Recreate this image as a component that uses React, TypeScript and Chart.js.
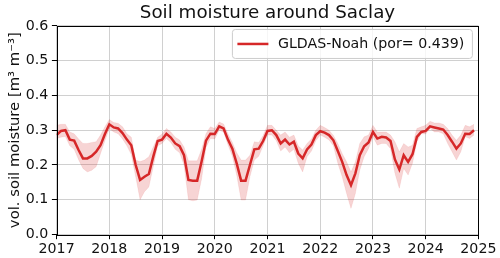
import React, { useEffect, useRef } from "react";
import { Chart, registerables } from "chart.js";

Chart.register(...registerables);

// ---- data (monthly, Jan 2017 .. Dec 2024) ----
const startYear = 2017;
const soilMoisture = [
  0.286, 0.298, 0.300, 0.273, 0.270, 0.243, 0.219, 0.219, 0.226, 0.238, 0.257, 0.289, // 2017
  0.317, 0.308, 0.305, 0.292, 0.273, 0.257, 0.200, 0.157, 0.166, 0.174, 0.224, 0.269, // 2018
  0.273, 0.290, 0.279, 0.262, 0.254, 0.228, 0.157, 0.155, 0.155, 0.210, 0.270, 0.290, // 2019
  0.289, 0.311, 0.305, 0.273, 0.247, 0.204, 0.155, 0.155, 0.200, 0.245, 0.247, 0.269, // 2020
  0.298, 0.300, 0.286, 0.262, 0.273, 0.259, 0.267, 0.233, 0.219, 0.245, 0.259, 0.286, // 2021
  0.297, 0.293, 0.286, 0.271, 0.240, 0.209, 0.171, 0.142, 0.176, 0.228, 0.254, 0.265, // 2022
  0.295, 0.276, 0.281, 0.279, 0.269, 0.216, 0.187, 0.228, 0.209, 0.231, 0.281, 0.295, // 2023
  0.298, 0.311, 0.308, 0.305, 0.302, 0.286, 0.267, 0.247, 0.262, 0.290, 0.289, 0.300, // 2024
];
const upperBound = [
  0.314, 0.317, 0.317, 0.295, 0.290, 0.275, 0.262, 0.262, 0.265, 0.267, 0.286, 0.310,
  0.331, 0.322, 0.320, 0.310, 0.290, 0.280, 0.214, 0.210, 0.214, 0.224, 0.252, 0.280,
  0.289, 0.305, 0.295, 0.280, 0.272, 0.252, 0.212, 0.212, 0.212, 0.245, 0.290, 0.310,
  0.305, 0.324, 0.318, 0.290, 0.265, 0.235, 0.214, 0.214, 0.228, 0.267, 0.265, 0.285,
  0.314, 0.314, 0.300, 0.286, 0.295, 0.280, 0.286, 0.255, 0.243, 0.262, 0.275, 0.300,
  0.314, 0.308, 0.300, 0.285, 0.262, 0.233, 0.209, 0.180, 0.209, 0.262, 0.281, 0.286,
  0.314, 0.295, 0.295, 0.295, 0.286, 0.267, 0.238, 0.262, 0.252, 0.257, 0.305, 0.310,
  0.314, 0.326, 0.321, 0.321, 0.317, 0.305, 0.286, 0.271, 0.286, 0.314, 0.310, 0.317,
];
const lowerBound = [
  0.276, 0.280, 0.282, 0.255, 0.245, 0.215, 0.190, 0.180, 0.185, 0.195, 0.233, 0.270,
  0.305, 0.295, 0.290, 0.275, 0.255, 0.230, 0.166, 0.100, 0.123, 0.137, 0.195, 0.255,
  0.262, 0.276, 0.265, 0.245, 0.235, 0.200, 0.100, 0.097, 0.099, 0.160, 0.250, 0.276,
  0.275, 0.300, 0.295, 0.258, 0.225, 0.170, 0.099, 0.099, 0.166, 0.214, 0.225, 0.255,
  0.286, 0.286, 0.270, 0.240, 0.252, 0.235, 0.245, 0.205, 0.180, 0.224, 0.240, 0.270,
  0.286, 0.280, 0.272, 0.255, 0.205, 0.166, 0.118, 0.075, 0.118, 0.185, 0.224, 0.247,
  0.281, 0.257, 0.262, 0.262, 0.247, 0.176, 0.133, 0.190, 0.171, 0.205, 0.267, 0.290,
  0.289, 0.305, 0.295, 0.295, 0.290, 0.262, 0.238, 0.214, 0.238, 0.281, 0.276, 0.286,
];
const xTickYears = [2017, 2018, 2019, 2020, 2021, 2022, 2023, 2024, 2025];
const yTickValues = [0, 0.1, 0.2, 0.3, 0.4, 0.5, 0.6];
const chartTitle = "Soil moisture around Saclay";
const yAxisLabel = "vol. soil moisture [m³ m⁻³]";
const legendLabel = "GLDAS-Noah (por= 0.439)";

const LINE_COLOR = "#d62728";
const BAND_COLOR = "rgba(214, 39, 40, 0.2)";
const FONT = "DejaVu Sans";
const TEXT_COLOR = "#111";
const FS = 14.2;

const toPoints = (vals: number[]) =>
  vals.map((v, i) => ({ x: startYear + i / 12, y: v }));

const framePlugin = {
  id: "frameAndLegend",
  afterDraw(chart: any) {
    const { ctx, chartArea } = chart;
    const { left, right, top, bottom } = chartArea;
    ctx.save();
    // spines
    ctx.strokeStyle = "#000";
    ctx.lineWidth = 1;
    ctx.strokeRect(Math.round(left) + 0.5, Math.round(top) + 0.5,
      Math.round(right) - Math.round(left), Math.round(bottom) - Math.round(top));
    // legend box
    const bw = 240;
    const bh = 29;
    const bx = right - 6 - bw;
    const by = top + 3.5;
    const r = 3;
    ctx.beginPath();
    ctx.moveTo(bx + r, by);
    ctx.lineTo(bx + bw - r, by);
    ctx.arcTo(bx + bw, by, bx + bw, by + r, r);
    ctx.lineTo(bx + bw, by + bh - r);
    ctx.arcTo(bx + bw, by + bh, bx + bw - r, by + bh, r);
    ctx.lineTo(bx + r, by + bh);
    ctx.arcTo(bx, by + bh, bx, by + bh - r, r);
    ctx.lineTo(bx, by + r);
    ctx.arcTo(bx, by, bx + r, by, r);
    ctx.closePath();
    ctx.fillStyle = "rgba(255,255,255,0.8)";
    ctx.fill();
    ctx.strokeStyle = "#cccccc";
    ctx.lineWidth = 1;
    ctx.stroke();
    const cy = by + bh / 2;
    ctx.beginPath();
    ctx.moveTo(bx + 5, cy);
    ctx.lineTo(bx + 36, cy);
    ctx.strokeStyle = LINE_COLOR;
    ctx.lineWidth = 2.5;
    ctx.stroke();
    ctx.fillStyle = TEXT_COLOR;
    ctx.font = `${FS}px "${FONT}"`;
    ctx.textBaseline = "middle";
    ctx.textAlign = "left";
    ctx.fillText(legendLabel, bx + 45.5, cy);
    ctx.restore();
  },
};

export default function App() {
  const canvasRef = useRef<HTMLCanvasElement | null>(null);

  useEffect(() => {
    if (!canvasRef.current) return;
    const chart = new Chart(canvasRef.current, {
      type: "line",
      data: {
        datasets: [
          {
            label: legendLabel,
            data: toPoints(soilMoisture),
            borderColor: LINE_COLOR,
            borderWidth: 2.5,
            pointRadius: 0,
            fill: false,
            tension: 0,
          },
          {
            label: "upper",
            data: toPoints(upperBound),
            borderColor: "rgba(214, 39, 40, 0.15)",
            borderWidth: 0.5,
            pointRadius: 0,
            fill: false,
          },
          {
            label: "lower",
            data: toPoints(lowerBound),
            borderColor: "rgba(214, 39, 40, 0.15)",
            borderWidth: 0.5,
            pointRadius: 0,
            backgroundColor: BAND_COLOR,
            fill: "-1",
          },
        ],
      },
      options: {
        animation: false,
        responsive: false,
        maintainAspectRatio: false,
        layout: { padding: { left: 0, right: 21.6, top: 0, bottom: 0 } },
        plugins: {
          legend: { display: false },
          tooltip: { enabled: false },
          title: {
            display: true,
            text: chartTitle,
            fullSize: false,
            color: TEXT_COLOR,
            font: { family: FONT, size: 18.3, weight: "normal", lineHeight: 1.2 },
            padding: { top: 2.7, bottom: 1.3 },
          },
        },
        scales: {
          x: {
            type: "linear",
            min: xTickYears[0],
            max: xTickYears[xTickYears.length - 1],
            afterBuildTicks: (s: any) => {
              s.ticks = xTickYears.map((v) => ({ value: v }));
            },
            afterFit: (s: any) => {
              s.height = 23.5;
            },
            ticks: {
              color: TEXT_COLOR,
              font: { family: FONT, size: FS },
              padding: 1.5,
              maxRotation: 0,
              callback: (v: any) => String(v),
            },
            grid: {
              color: "#d0d0d0",
              lineWidth: 1,
              tickColor: "#000",
              tickLength: 4.7,
            },
            border: { display: false },
          },
          y: {
            min: yTickValues[0],
            max: yTickValues[yTickValues.length - 1],
            afterBuildTicks: (s: any) => {
              s.ticks = yTickValues.map((v) => ({ value: v }));
            },
            afterFit: (s: any) => {
              s.width = 56.6;
            },
            ticks: {
              color: TEXT_COLOR,
              font: { family: FONT, size: FS },
              padding: 3.5,
              callback: (v: any) => Number(v).toFixed(1),
            },
            grid: {
              color: "#d0d0d0",
              lineWidth: 1,
              tickColor: "#000",
              tickLength: 4.7,
            },
            border: { display: false },
            title: {
              display: true,
              text: yAxisLabel,
              color: TEXT_COLOR,
              font: { family: FONT, size: 14.8 },
              padding: { top: 5.8, bottom: 0 },
            },
          },
        },
      },
      plugins: [framePlugin],
    });
    return () => chart.destroy();
  }, []);

  return (
    <div style={{ position: "fixed", left: 0, top: 0, width: 500, height: 258, background: "#fff" }}>
      <canvas ref={canvasRef} width={500} height={258} style={{ display: "block" }} />
    </div>
  );
}
